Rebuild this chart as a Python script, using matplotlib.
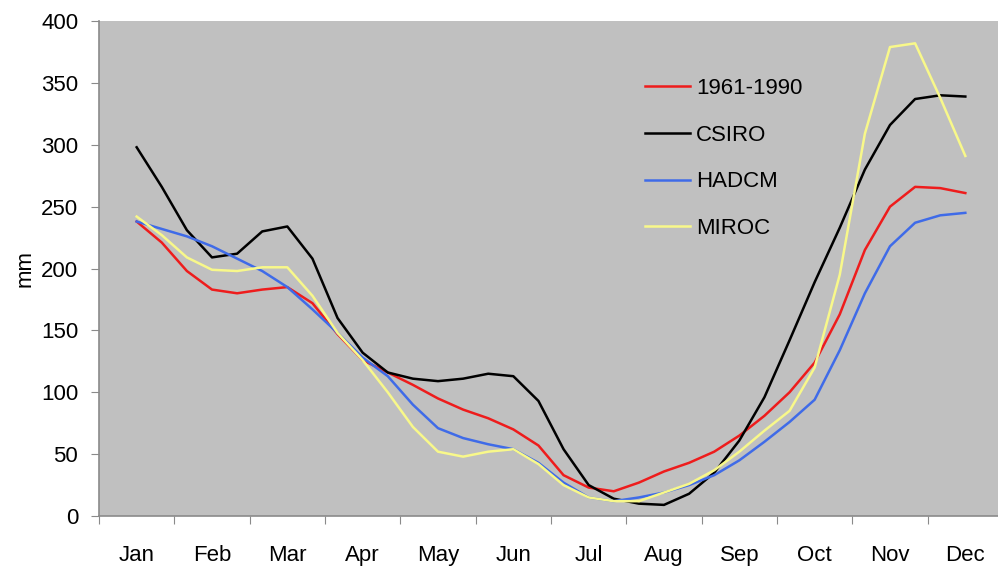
import matplotlib.pyplot as plt
import numpy as np

plt.rcParams['font.family'] = ['Liberation Sans', 'DejaVu Sans']

months = ['Jan', 'Feb', 'Mar', 'Apr', 'May', 'Jun', 'Jul', 'Aug', 'Sep', 'Oct', 'Nov', 'Dec']

# rainfall (mm), read every third of a month from mid-Jan to mid-Dec
base_1961_1990 = [238, 221, 198, 183, 180, 183, 185, 172, 147, 126, 116, 106, 95, 86, 79, 70, 57,
                  33, 23, 20, 27, 36, 43, 52, 65, 81, 100, 124, 163, 215, 250, 266, 265, 261]
csiro = [298, 266, 231, 209, 212, 230, 234, 208, 160, 132, 116, 111, 109, 111, 115, 113, 93,
         54, 25, 14, 10, 9, 18, 35, 61, 96, 142, 189, 233, 280, 316, 337, 340, 339]
hadcm = [238, 232, 226, 218, 208, 198, 185, 167, 148, 128, 113, 90, 71, 63, 58, 54, 43,
         27, 15, 12, 15, 19, 25, 33, 45, 60, 76, 94, 134, 180, 218, 237, 243, 245]
miroc = [242, 227, 209, 199, 198, 201, 201, 178, 148, 126, 100, 72, 52, 48, 52, 54, 42,
         25, 15, 12, 12, 19, 26, 37, 52, 69, 85, 120, 195, 309, 379, 382, 338, 291]

# x position in months (category centres at 0.5, 1.5, ...)
x = 0.5 + np.arange(len(csiro)) / 3

fig = plt.figure(figsize=(9.98, 5.8), dpi=100)
ax = fig.add_axes([0.0992, 0.1103, 0.9058, 0.8534])
ax.set_facecolor('#c0c0c0')

ax.plot(x, base_1961_1990, color='#ee1c1c', lw=1.8, label='1961-1990')
ax.plot(x, csiro, color='#000000', lw=1.8, label='CSIRO')
ax.plot(x, hadcm, color='#3f6be8', lw=1.8, label='HADCM')
ax.plot(x, miroc, color='#f8f88a', lw=1.8, label='MIROC')

ax.set_xlim(0, 12)
ax.set_ylim(0, 400)
ax.set_yticks(np.arange(0, 401, 50))
ax.set_xticks(np.arange(0, 13))
ax.set_xticklabels([])
ax.set_xticks(np.arange(12) + 0.5, minor=True)
ax.set_xticklabels(months, minor=True)

for s in ['top', 'right']:
    ax.spines[s].set_visible(False)
for s in ['left', 'bottom']:
    ax.spines[s].set_color('#8a8a8a')
    ax.spines[s].set_linewidth(1.2)

ax.tick_params(axis='y', which='major', length=6, color='#8a8a8a', labelsize=16, pad=9)
ax.tick_params(axis='x', which='major', length=6, color='#8a8a8a')
ax.tick_params(axis='x', which='minor', length=0, labelsize=16, pad=21)
ax.set_ylabel('mm', fontsize=16, labelpad=4)

ax.legend(loc='upper left', bbox_to_anchor=(0.582, 0.925), frameon=False, fontsize=16,
          handlelength=2.0, handletextpad=0.3, labelspacing=1.15)

fig.savefig('out.png', dpi=100)
